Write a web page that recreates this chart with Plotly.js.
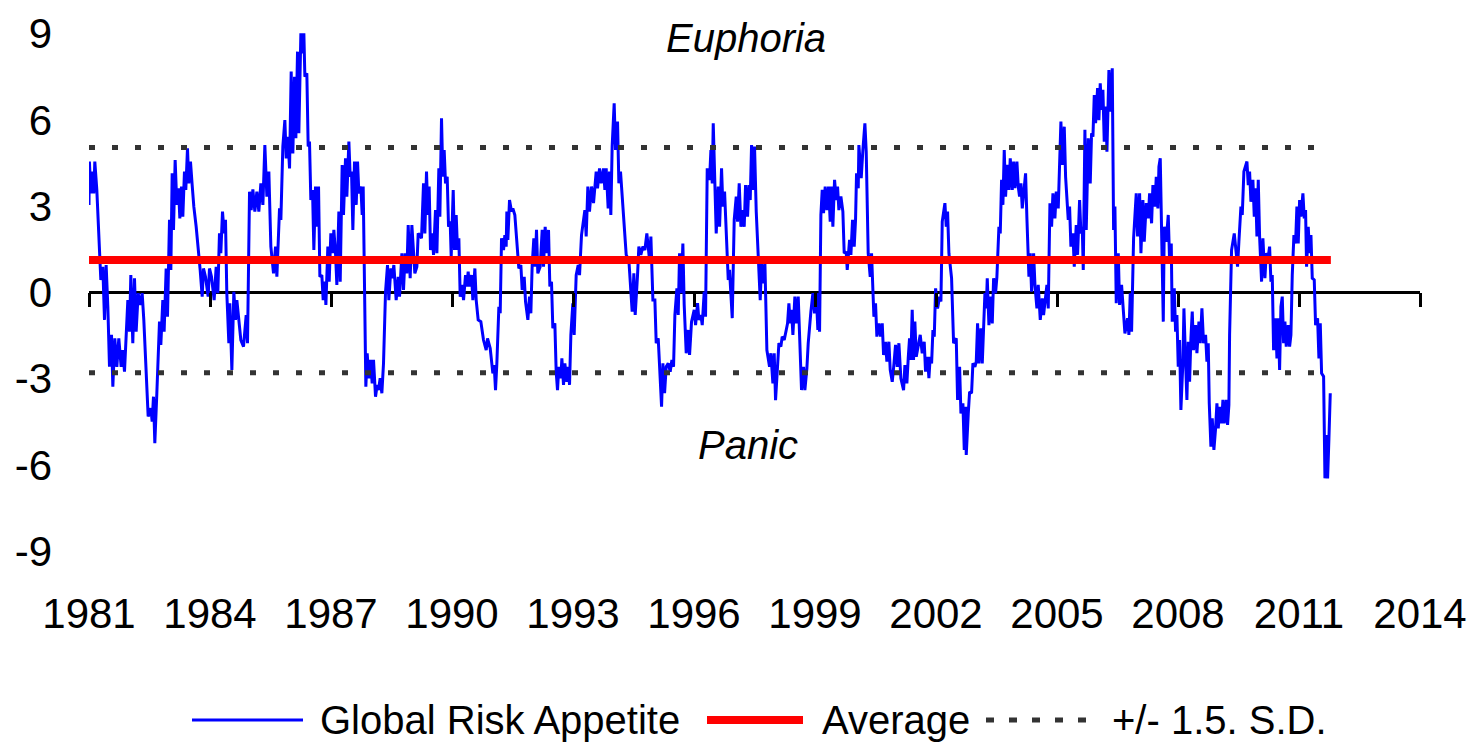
<!DOCTYPE html>
<html>
<head>
<meta charset="utf-8">
<script src="https://cdn.plot.ly/plotly-3.0.1.min.js"></script>
<style>
  html, body { margin: 0; padding: 0; background: #ffffff; }
  #chart { width: 1470px; height: 744px; }
</style>
</head>
<body>
<div id="chart"></div>
<script>
// ---------------- DATA ----------------
const riskYears = [
  1981.000,1981.010,1981.045,1981.078,1981.119,1981.144,1981.194,1981.235,1981.293,1981.343,
  1981.384,1981.425,1981.467,1981.508,1981.558,1981.591,1981.640,1981.690,1981.739,1981.797,
  1981.839,1981.880,1981.921,1981.963,1982.004,1982.037,1982.086,1982.128,1982.169,1982.219,
  1982.268,1982.318,1982.359,1982.400,1982.467,1982.533,1982.566,1982.599,1982.632,1982.682,
  1982.715,1982.748,1982.781,1982.830,1982.863,1982.913,1982.946,1982.996,1983.029,1983.062,
  1983.095,1983.136,1983.177,1983.219,1983.252,1983.293,1983.326,1983.367,1983.400,1983.442,
  1983.475,1983.516,1983.558,1983.599,1983.657,1983.723,1983.756,1983.806,1983.838,1983.888,
  1983.954,1983.987,1984.037,1984.103,1984.153,1984.194,1984.235,1984.268,1984.310,1984.351,
  1984.384,1984.417,1984.467,1984.492,1984.542,1984.591,1984.633,1984.666,1984.715,1984.765,
  1984.831,1984.897,1984.930,1984.980,1985.021,1985.063,1985.112,1985.162,1985.211,1985.261,
  1985.311,1985.360,1985.410,1985.459,1985.509,1985.575,1985.625,1985.658,1985.724,1985.757,
  1985.806,1985.856,1985.889,1985.930,1985.972,1986.013,1986.054,1986.096,1986.129,1986.170,
  1986.203,1986.253,1986.286,1986.327,1986.352,1986.401,1986.434,1986.467,1986.500,1986.542,
  1986.575,1986.616,1986.649,1986.691,1986.724,1986.773,1986.806,1986.848,1986.873,1986.922,
  1986.955,1986.996,1987.038,1987.071,1987.112,1987.145,1987.195,1987.228,1987.277,1987.310,
  1987.360,1987.393,1987.443,1987.476,1987.509,1987.542,1987.583,1987.625,1987.658,1987.691,
  1987.740,1987.773,1987.798,1987.840,1987.864,1987.897,1987.938,1987.980,1988.021,1988.054,
  1988.104,1988.145,1988.178,1988.219,1988.261,1988.302,1988.352,1988.401,1988.434,1988.484,
  1988.517,1988.558,1988.616,1988.666,1988.699,1988.757,1988.798,1988.839,1988.881,1988.914,
  1988.963,1989.005,1989.046,1989.079,1989.129,1989.162,1989.244,1989.294,1989.327,1989.368,
  1989.401,1989.434,1989.467,1989.509,1989.542,1989.591,1989.625,1989.674,1989.699,1989.740,
  1989.773,1989.806,1989.839,1989.881,1989.914,1989.955,1989.980,1990.030,1990.063,1990.104,
  1990.137,1990.170,1990.203,1990.253,1990.286,1990.335,1990.368,1990.401,1990.434,1990.484,
  1990.517,1990.567,1990.600,1990.649,1990.715,1990.781,1990.848,1990.881,1990.947,1991.013,
  1991.046,1991.079,1991.112,1991.162,1991.195,1991.228,1991.278,1991.310,1991.343,1991.360,
  1991.385,1991.426,1991.476,1991.509,1991.558,1991.608,1991.657,1991.707,1991.740,1991.790,
  1991.823,1991.881,1991.922,1991.955,1991.988,1992.029,1992.062,1992.095,1992.128,1992.186,
  1992.236,1992.269,1992.310,1992.352,1992.393,1992.426,1992.467,1992.500,1992.550,1992.583,
  1992.616,1992.649,1992.699,1992.724,1992.765,1992.798,1992.848,1992.881,1992.914,1992.947,
  1992.996,1993.029,1993.079,1993.129,1993.162,1993.211,1993.294,1993.327,1993.368,1993.409,
  1993.459,1993.509,1993.575,1993.608,1993.658,1993.699,1993.757,1993.790,1993.823,1993.872,
  1993.905,1993.938,1993.971,1994.021,1994.054,1994.104,1994.137,1994.178,1994.220,1994.269,
  1994.319,1994.385,1994.467,1994.509,1994.542,1994.600,1994.633,1994.682,1994.732,1994.782,
  1994.831,1994.864,1994.898,1994.931,1994.981,1995.030,1995.063,1995.113,1995.146,1995.196,
  1995.229,1995.270,1995.311,1995.361,1995.410,1995.452,1995.493,1995.526,1995.576,1995.609,
  1995.642,1995.683,1995.724,1995.757,1995.807,1995.857,1995.890,1995.939,1996.005,1996.039,
  1996.088,1996.121,1996.171,1996.204,1996.253,1996.286,1996.328,1996.386,1996.419,1996.452,
  1996.477,1996.518,1996.551,1996.601,1996.634,1996.683,1996.716,1996.758,1996.799,1996.849,
  1996.881,1996.948,1996.997,1997.047,1997.080,1997.121,1997.163,1997.212,1997.245,1997.278,
  1997.328,1997.361,1997.394,1997.427,1997.468,1997.501,1997.543,1997.592,1997.642,1997.675,
  1997.725,1997.758,1997.807,1997.873,1997.906,1997.956,1997.989,1998.022,1998.055,1998.105,
  1998.154,1998.187,1998.237,1998.270,1998.320,1998.353,1998.386,1998.419,1998.452,1998.501,
  1998.534,1998.584,1998.633,1998.666,1998.716,1998.749,1998.799,1998.832,1998.898,1998.948,
  1998.989,1999.030,1999.071,1999.096,1999.113,1999.146,1999.179,1999.212,1999.253,1999.295,
  1999.336,1999.377,1999.410,1999.443,1999.485,1999.526,1999.559,1999.592,1999.642,1999.691,
  1999.724,1999.774,1999.799,1999.857,1999.890,1999.931,1999.972,2000.005,2000.030,2000.072,
  2000.088,2000.146,2000.187,2000.237,2000.270,2000.319,2000.369,2000.402,2000.460,2000.501,
  2000.534,2000.584,2000.625,2000.667,2000.700,2000.749,2000.782,2000.832,2000.865,2000.915,
  2000.948,2000.997,2001.039,2001.080,2001.129,2001.196,2001.229,2001.278,2001.311,2001.344,
  2001.377,2001.410,2001.443,2001.476,2001.510,2001.559,2001.609,2001.658,2001.708,2001.741,
  2001.791,2001.824,2001.857,2001.891,2001.924,2001.957,2001.990,2002.039,2002.089,2002.122,
  2002.155,2002.221,2002.254,2002.287,2002.320,2002.386,2002.436,2002.502,2002.535,2002.585,
  2002.618,2002.667,2002.701,2002.734,2002.750,2002.800,2002.833,2002.882,2002.915,2002.965,
  2002.998,2003.031,2003.064,2003.114,2003.147,2003.180,2003.213,2003.246,2003.271,2003.312,
  2003.345,2003.395,2003.428,2003.477,2003.510,2003.560,2003.593,2003.626,2003.659,2003.692,
  2003.725,2003.767,2003.808,2003.841,2003.891,2003.924,2003.957,2004.006,2004.039,2004.072,
  2004.106,2004.139,2004.188,2004.221,2004.254,2004.304,2004.337,2004.370,2004.420,2004.453,
  2004.502,2004.535,2004.585,2004.634,2004.667,2004.717,2004.750,2004.783,2004.825,2004.866,
  2004.899,2004.948,2004.982,2005.031,2005.056,2005.097,2005.130,2005.180,2005.213,2005.279,
  2005.312,2005.345,2005.395,2005.428,2005.477,2005.510,2005.560,2005.593,2005.626,2005.651,
  2005.692,2005.725,2005.775,2005.824,2005.857,2005.891,2005.924,2005.957,2006.006,2006.039,
  2006.072,2006.105,2006.138,2006.171,2006.213,2006.238,2006.287,2006.320,2006.370,2006.403,
  2006.436,2006.469,2006.519,2006.552,2006.601,2006.634,2006.684,2006.750,2006.783,2006.816,
  2006.849,2006.899,2006.965,2006.998,2007.048,2007.081,2007.130,2007.163,2007.213,2007.262,
  2007.296,2007.345,2007.378,2007.428,2007.461,2007.502,2007.527,2007.560,2007.585,2007.635,
  2007.659,2007.709,2007.758,2007.791,2007.833,2007.857,2007.907,2007.940,2007.973,2008.006,
  2008.039,2008.072,2008.122,2008.147,2008.188,2008.221,2008.254,2008.287,2008.320,2008.353,
  2008.386,2008.436,2008.469,2008.519,2008.552,2008.593,2008.634,2008.684,2008.717,2008.750,
  2008.775,2008.816,2008.849,2008.890,2008.932,2008.965,2008.998,2009.039,2009.080,2009.114,
  2009.147,2009.196,2009.229,2009.262,2009.279,2009.328,2009.395,2009.444,2009.477,2009.510,
  2009.560,2009.593,2009.634,2009.709,2009.742,2009.775,2009.808,2009.857,2009.891,2009.924,
  2009.957,2009.990,2010.023,2010.072,2010.105,2010.155,2010.188,2010.237,2010.271,2010.304,
  2010.337,2010.370,2010.419,2010.453,2010.486,2010.519,2010.552,2010.585,2010.618,2010.651,
  2010.684,2010.733,2010.767,2010.800,2010.833,2010.874,2010.915,2010.948,2010.981,2011.015,
  2011.048,2011.097,2011.130,2011.163,2011.188,2011.229,2011.262,2011.296,2011.329,2011.378,
  2011.411,2011.461,2011.494,2011.527,2011.560,2011.610,2011.643,2011.676,2011.709,2011.742,2011.775
];
const riskAppetite = [
  3.04,4.55,3.44,4.20,3.44,4.55,3.56,1.99,0.43,0.89,
  -0.96,0.95,-0.50,-2.59,-1.48,-3.28,-1.60,-2.59,-1.60,-2.59,
  -2.01,-2.76,-1.31,-0.27,-1.37,0.60,-1.77,0.49,-1.37,-0.03,
  -0.44,-0.03,-0.96,-2.30,-4.32,-4.03,-4.50,-3.63,-5.25,-3.51,
  -1.89,-1.02,-1.83,-0.27,-1.37,0.83,-0.85,2.52,0.78,4.14,
  2.17,4.60,3.04,3.62,2.57,3.68,2.63,4.20,3.56,5.01,
  3.79,4.55,3.73,2.98,2.28,1.36,0.78,-0.15,0.83,0.54,
  -0.15,0.83,0.54,-0.27,0.89,-0.03,2.05,1.36,2.81,2.05,
  2.52,-0.03,-1.77,-0.38,-2.70,0.02,-0.96,-0.27,-0.96,-1.66,
  -1.89,-0.79,-1.77,3.50,2.86,3.58,2.81,3.50,2.81,3.79,
  3.04,5.12,3.33,4.20,1.59,0.66,1.59,0.54,2.92,2.52,
  5.07,5.99,4.66,5.41,4.31,7.68,4.83,7.50,5.36,8.37,
  5.53,9.01,8.31,9.01,7.50,7.62,5.07,5.24,3.21,3.56,
  1.47,3.68,2.28,3.68,0.54,0.60,-0.27,0.37,-0.44,1.59,
  0.37,2.05,1.36,2.17,1.36,0.26,2.81,0.37,4.43,2.69,
  4.66,3.33,5.24,4.02,4.20,2.17,4.55,3.04,4.55,3.44,
  3.68,2.69,3.68,-2.12,-3.28,-2.12,-2.99,-2.35,-3.17,-2.35,
  -3.63,-3.22,-3.40,-2.99,-3.51,-2.47,0.02,0.95,-0.27,0.83,
  0.49,0.95,-0.27,0.54,-0.15,1.36,0.08,1.36,0.66,2.34,
  0.49,2.34,1.30,0.66,0.89,2.05,1.88,3.79,2.05,4.20,
  2.69,3.68,1.47,2.05,1.30,2.86,1.36,4.31,2.63,6.05,
  4.02,4.95,3.79,4.02,2.28,2.46,1.24,3.56,1.47,2.69,
  1.47,1.88,-0.15,0.26,-0.27,0.60,0.20,0.72,0.20,0.60,
  -0.27,0.83,-0.27,-0.96,-1.02,-1.66,-2.01,-1.60,-1.95,-2.82,
  -2.53,-3.40,-2.47,-0.50,-0.73,1.88,1.47,1.99,1.59,2.81,
  1.82,3.21,2.81,2.92,2.69,1.88,0.83,0.95,0.08,0.54,
  -0.32,-0.96,-0.15,-0.73,0.95,1.88,0.89,2.17,0.66,0.89,
  2.17,0.89,2.28,1.36,2.17,0.20,0.37,-1.25,-1.08,-2.76,
  -3.40,-2.59,-2.99,-2.30,-3.22,-2.47,-3.11,-2.59,-3.22,-1.48,
  -0.38,-1.48,0.60,0.95,0.60,1.99,2.86,1.94,3.68,2.81,
  3.68,3.10,4.20,3.62,4.31,3.79,4.31,3.56,4.31,2.92,
  4.20,2.69,5.07,6.57,4.95,5.94,3.79,4.20,3.21,2.05,
  1.30,1.12,-0.67,0.66,-0.79,0.60,1.59,1.30,1.59,1.47,
  2.05,1.59,1.12,1.94,-0.27,-0.27,-1.77,-1.60,-2.59,-3.98,
  -2.47,-3.51,-2.59,-2.47,-2.76,-2.35,-2.59,-0.79,0.14,-0.79,
  1.36,-0.03,1.70,-0.44,-2.12,-1.31,-2.18,-1.02,-0.61,-1.14,
  -0.38,-0.96,-0.79,-1.14,0.02,-0.85,4.31,3.91,4.95,3.79,
  5.88,3.79,2.05,3.68,2.28,4.31,2.98,3.50,2.05,0.43,
  0.78,-0.90,2.52,3.33,2.46,3.79,2.28,2.86,2.28,3.73,
  2.63,3.73,3.21,5.12,3.56,5.07,2.81,1.01,-0.27,1.01,
  0.31,1.01,-2.01,-2.59,-2.12,-3.17,-2.12,-3.75,-2.82,-1.77,
  -1.89,-1.54,-1.66,-1.37,-1.08,-0.38,-1.08,-0.61,-1.48,-0.15,
  -1.08,-0.15,-2.64,-3.40,-2.59,-3.40,-2.64,-1.77,-0.67,-0.03,
  -0.73,-0.03,-1.31,-0.03,-1.37,2.69,3.56,2.75,3.68,2.86,
  3.68,2.46,3.68,2.28,3.91,3.21,3.68,2.86,3.33,2.81,
  1.36,1.41,0.78,1.82,1.30,2.52,1.59,2.52,4.14,3.62,
  5.12,3.97,4.95,5.88,4.89,1.36,0.54,1.36,-0.85,-0.38,
  -1.54,-1.08,-1.54,-1.08,-2.18,-1.72,-2.41,-1.72,-2.70,-3.11,
  -2.64,-1.83,-2.59,-1.77,-2.99,-3.40,-2.53,-3.17,-2.30,-1.60,
  -2.35,-0.61,-2.35,-1.02,-2.24,-1.89,-1.48,-2.12,-1.72,-2.76,
  -2.24,-2.99,-2.24,-2.47,-1.31,-1.54,0.14,-0.56,-0.15,-0.32,
  2.46,3.10,2.28,2.81,1.36,0.49,-1.77,-1.60,-3.74,-2.59,
  -4.21,-3.86,-5.48,-3.98,-5.66,-4.21,-3.46,-3.51,-2.47,-2.59,
  -2.41,-1.08,-2.47,-1.25,-2.47,-1.25,-0.03,-0.56,0.49,-1.14,
  -0.15,-1.08,0.49,-0.03,0.54,2.28,2.05,3.91,3.04,4.95,
  3.33,4.43,3.56,4.66,3.56,4.55,3.62,4.55,3.68,3.33,
  3.79,2.92,3.79,4.14,2.57,0.54,1.36,0.02,1.36,0.26,
  -0.56,0.26,-0.96,-0.21,-0.79,-0.15,0.26,-0.56,3.10,2.28,
  3.44,2.57,3.50,2.92,4.43,5.94,4.43,5.76,4.02,2.52,
  2.98,1.59,2.05,0.89,2.34,1.30,3.21,2.05,2.28,0.78,
  5.65,2.17,5.36,3.79,5.53,5.41,6.86,5.88,7.10,5.99,
  7.27,6.34,7.04,5.24,6.46,4.89,7.73,6.28,7.79,2.17,
  2.98,-0.38,1.36,-0.44,0.26,-0.38,-1.43,-0.90,-1.48,-0.03,
  -1.37,1.88,3.44,1.94,3.44,1.36,3.21,1.76,3.10,2.57,
  3.44,2.40,3.73,2.98,4.02,2.92,4.37,4.66,2.17,-1.02,
  2.28,1.76,2.69,1.12,1.70,-1.02,0.14,-1.37,-0.79,-2.59,
  -1.66,-4.09,-2.41,-0.56,-2.41,-3.74,-1.72,-3.11,-1.60,-0.67,
  -2.01,-1.14,-2.12,-1.02,-1.77,-0.56,-1.77,-1.48,-2.41,-1.77,
  -3.86,-5.37,-4.38,-5.48,-4.73,-3.86,-4.73,-3.98,-4.56,-3.74,
  -4.56,-3.74,-4.61,-3.92,-1.48,1.47,2.05,1.47,0.89,1.76,
  2.98,2.69,4.20,4.55,3.73,4.20,3.15,3.91,2.63,3.62,
  1.94,3.91,1.94,0.37,1.88,0.49,1.36,1.24,1.59,0.37,
  0.60,-2.01,-0.90,-2.30,-0.90,-2.70,-0.50,-0.15,-1.77,-1.02,
  -1.89,-1.14,-1.89,-1.48,0.60,1.99,1.70,2.98,1.70,3.21,
  2.63,3.44,2.57,2.86,0.89,2.28,1.36,1.99,0.49,0.43,
  -1.14,-0.90,-2.30,-1.08,-2.82,-2.93,-6.47,-4.96,-6.47,-5.08,-3.51
];
const averageValue = 1.12;
const sdUpperValue = 5.04;
const sdLowerValue = -2.80;
const bandYears = [1981.0, 2011.79];

const xTickYears = [1981, 1984, 1987, 1990, 1993, 1996, 1999, 2002, 2005, 2008, 2011, 2014];
const xTickLabels = ['1981','1984','1987','1990','1993','1996','1999','2002','2005','2008','2011','2014'];
const yTickValues = [-9, -6, -3, 0, 3, 6, 9];
const yTickLabels = ['-9', '-6', '-3', '0', '3', '6', '9'];
const seriesNames = ['Global Risk Appetite', 'Average', '+/- 1.5. S.D.'];
const zoneLabels = ['Euphoria', 'Panic'];

// ---------------- LAYOUT ----------------
const W = 1470, H = 744;
const L = 89, R = 50, T = 16, B = 184;
const yMin = -9.31, yMax = 9.61;
const plotW = W - L - R, plotH = H - T - B;
const px2x = px => (px - L) / plotW;
const py2y = py => (H - B - py) / plotH;

const FONT = "'Liberation Sans', Arial, Helvetica, sans-serif";
const BLUE = '#0000FF', RED = '#FF0000', DOT = '#333333';

const traces = [
  {
    x: riskYears, y: riskAppetite, type: 'scatter', mode: 'lines',
    name: seriesNames[0], line: { color: BLUE, width: 3 }, showlegend: false
  },
  {
    x: bandYears, y: bandYears.map(() => sdUpperValue), type: 'scatter', mode: 'lines',
    name: seriesNames[2], line: { color: DOT, width: 5, dash: '6px,17px' }, showlegend: false
  },
  {
    x: bandYears, y: bandYears.map(() => sdLowerValue), type: 'scatter', mode: 'lines',
    name: seriesNames[2], line: { color: DOT, width: 5, dash: '6px,17px' }, showlegend: false
  },
  {
    x: bandYears, y: bandYears.map(() => averageValue), type: 'scatter', mode: 'lines',
    xaxis: 'x2', name: seriesNames[1], line: { color: RED, width: 8 }, showlegend: false
  }
];

const legendY = 720;
const shapes = [
  { type: 'line', xref: 'paper', yref: 'paper', x0: px2x(192), x1: px2x(303), y0: py2y(legendY), y1: py2y(legendY),
    line: { color: BLUE, width: 3 } },
  { type: 'line', xref: 'paper', yref: 'paper', x0: px2x(707), x1: px2x(803), y0: py2y(legendY), y1: py2y(legendY),
    line: { color: RED, width: 8 } },
  { type: 'line', xref: 'paper', yref: 'paper', x0: px2x(986), x1: px2x(1092), y0: py2y(legendY), y1: py2y(legendY),
    line: { color: DOT, width: 5, dash: '8px,15px' } }
];

const annFont = { family: FONT, size: 40, color: '#000000' };
const annotations = [
  { xref: 'paper', yref: 'paper', x: px2x(318), y: py2y(legendY), xanchor: 'left', yanchor: 'middle',
    text: seriesNames[0], showarrow: false, font: annFont },
  { xref: 'paper', yref: 'paper', x: px2x(820), y: py2y(legendY), xanchor: 'left', yanchor: 'middle',
    text: seriesNames[1], showarrow: false, font: annFont },
  { xref: 'paper', yref: 'paper', x: px2x(1110), y: py2y(legendY), xanchor: 'left', yanchor: 'middle',
    text: seriesNames[2], showarrow: false, font: annFont },
  { xref: 'paper', yref: 'paper', x: px2x(746), y: py2y(38), xanchor: 'center', yanchor: 'middle',
    text: '<i>' + zoneLabels[0] + '</i>', showarrow: false, font: annFont },
  { xref: 'paper', yref: 'paper', x: px2x(748), y: py2y(445), xanchor: 'center', yanchor: 'middle',
    text: '<i>' + zoneLabels[1] + '</i>', showarrow: false, font: annFont }
];

const layout = {
  width: W, height: H,
  margin: { l: L, r: R, t: T, b: B, pad: 0 },
  paper_bgcolor: '#ffffff', plot_bgcolor: '#ffffff',
  showlegend: false,
  hovermode: false,
  font: { family: FONT, size: 42, color: '#000000' },
  xaxis: {
    range: [1981, 2014], tickvals: xTickYears, ticktext: xTickLabels,
    showgrid: false, zeroline: false, showline: false, ticks: '',
    ticklabelstandoff: 25, ticklabeloverflow: 'allow',
    tickfont: { family: FONT, size: 42, color: '#000000' }
  },
  xaxis2: {
    overlaying: 'x', anchor: 'free', position: (0 - yMin) / (yMax - yMin), side: 'bottom',
    range: [1981, 2014], tickvals: xTickYears, showticklabels: false,
    ticks: 'outside', ticklen: 14, tickwidth: 3, tickcolor: '#000000',
    showgrid: false, zeroline: false, showline: false
  },
  yaxis: {
    range: [yMin, yMax], tickvals: yTickValues, ticktext: yTickLabels,
    showgrid: false, showline: false, ticks: '',
    zeroline: true, zerolinecolor: '#000000', zerolinewidth: 3,
    ticklabelstandoff: 36,
    tickfont: { family: FONT, size: 42, color: '#000000' }
  },
  shapes: shapes,
  annotations: annotations
};

Plotly.newPlot('chart', traces, layout, { staticPlot: true, displayModeBar: false });
</script>
</body>
</html>
